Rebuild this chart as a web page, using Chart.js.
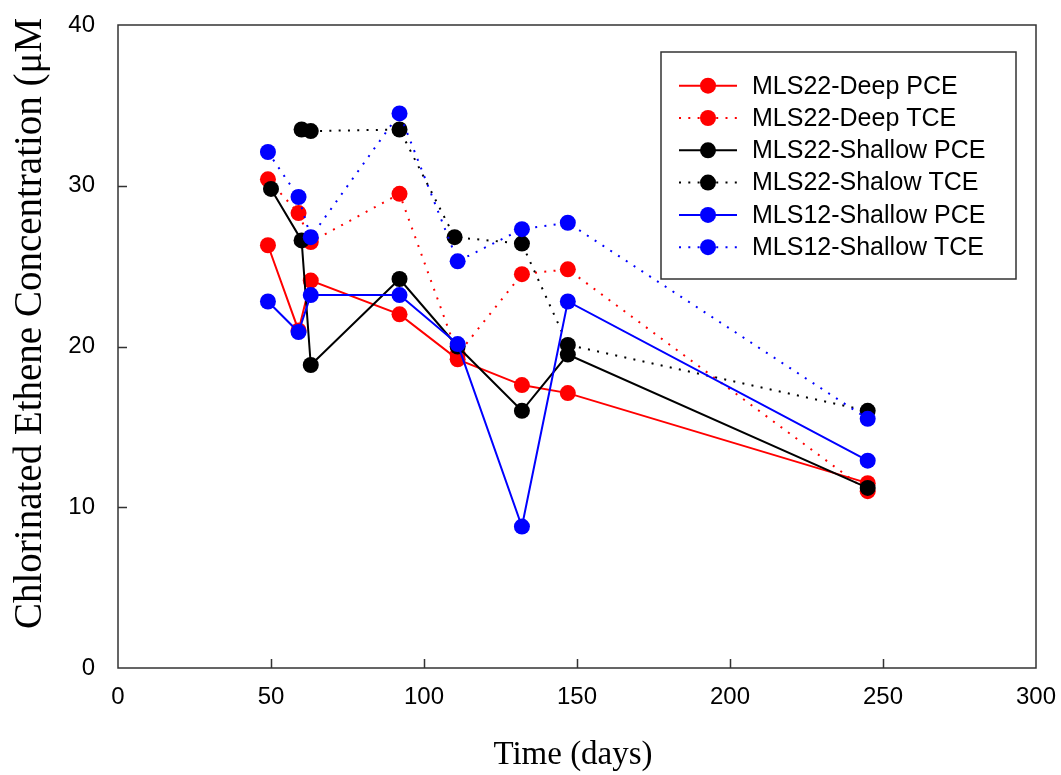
<!DOCTYPE html>
<html>
<head>
<meta charset="utf-8">
<script src="https://cdn.jsdelivr.net/npm/chart.js@4.4.1/dist/chart.umd.min.js"></script>
<style>
html,body{margin:0;padding:0;background:#fff;}
#wrap{width:1061px;height:775px;}
</style>
</head>
<body>
<div id="wrap"><canvas id="c" width="1061" height="775"></canvas></div>
<script>
// ---- data ----
const seriesNames = ["MLS22-Deep PCE","MLS22-Deep TCE","MLS22-Shallow PCE","MLS22-Shalow TCE","MLS12-Shallow PCE","MLS12-Shallow TCE"];
const daysDeepPCE = [49,59,63,92,111,132,147,245];
const deepPCE     = [26.3,21.0,24.1,22.0,19.2,17.6,17.1,11.5];
const daysDeepTCE = [49,59,63,92,111,132,147,245];
const deepTCE     = [30.4,28.3,26.5,29.5,19.5,24.5,24.8,11.0];
const daysShallowPCE = [50,60,63,92,111,132,147,245];
const shallowPCE     = [29.8,26.6,18.85,24.2,20.0,16.0,19.5,11.2];
const daysShallowTCE = [60,63,92,110,132,147,245];
const shallowTCE     = [33.5,33.4,33.5,26.8,26.4,20.1,16.0];
const daysMls12PCE = [49,59,63,92,111,132,147,245];
const mls12PCE     = [22.8,20.9,23.2,23.2,20.15,8.8,22.8,12.9];
const daysMls12TCE = [49,59,63,92,111,132,147,245];
const mls12TCE     = [32.1,29.3,26.8,34.5,25.3,27.3,27.7,15.5];
const xTicks = [0,50,100,150,200,250,300];
const yTicks = [0,10,20,30,40];
const xTitle = "Time (days)";
const yTitle = "Chlorinated Ethene Concentration (\u03bcM";

const pts = (xs, ys) => xs.map((x, i) => ({x: x, y: ys[i]}));
const colors = ["#ff0000","#ff0000","#000000","#000000","#0000ff","#0000ff"];
const dotted = [false,true,false,true,false,true];
const DASH = [2,7.3];
const seriesData = [
  pts(daysDeepPCE, deepPCE), pts(daysDeepTCE, deepTCE),
  pts(daysShallowPCE, shallowPCE), pts(daysShallowTCE, shallowTCE),
  pts(daysMls12PCE, mls12PCE), pts(daysMls12TCE, mls12TCE)
];

const datasets = seriesData.map((d, i) => ({
  label: seriesNames[i],
  data: d,
  borderColor: colors[i],
  backgroundColor: colors[i],
  pointBackgroundColor: colors[i],
  pointBorderColor: colors[i],
  pointBorderWidth: 0,
  pointRadius: 8,
  pointHoverRadius: 8,
  borderWidth: 2,
  borderDash: dotted[i] ? DASH : [],
  tension: 0,
  order: 6 - i
}));

const FRAME = "#333333";

const framePlugin = {
  id: "framePlugin",
  afterDraw(chart) {
    const ctx = chart.ctx;
    const a = chart.chartArea;
    const xs = chart.scales.x, ys = chart.scales.y;
    ctx.save();
    ctx.strokeStyle = FRAME;
    ctx.lineWidth = 1.5;
    ctx.strokeRect(a.left, a.top, a.right - a.left, a.bottom - a.top);
    // inward ticks
    ctx.beginPath();
    xTicks.forEach(v => {
      if (v === xs.min || v === xs.max) return;
      const px = Math.round(xs.getPixelForValue(v)) + 0.5;
      ctx.moveTo(px, a.bottom);
      ctx.lineTo(px, a.bottom - 9);
    });
    yTicks.forEach(v => {
      if (v === ys.min || v === ys.max) return;
      const py = Math.round(ys.getPixelForValue(v)) + 0.5;
      ctx.moveTo(a.left, py);
      ctx.lineTo(a.left + 9, py);
    });
    ctx.stroke();

    // axis titles
    ctx.fillStyle = "#000";
    ctx.font = "33px 'Liberation Serif', 'Times New Roman', serif";
    ctx.textAlign = "center";
    ctx.textBaseline = "alphabetic";
    ctx.fillText(xTitle, (a.left + a.right) / 2 - 4, 764);

    ctx.save();
    ctx.font = "39px 'Liberation Serif', 'Times New Roman', serif";
    ctx.translate(41, 629);
    ctx.rotate(-Math.PI / 2);
    ctx.textAlign = "left";
    ctx.textBaseline = "alphabetic";
    ctx.fillText(yTitle, 0, 0);
    ctx.restore();

    // legend
    const lx = 661, ly = 52, lw = 355, lh = 227;
    ctx.fillStyle = "#fff";
    ctx.fillRect(lx, ly, lw, lh);
    ctx.strokeStyle = FRAME;
    ctx.lineWidth = 1.5;
    ctx.strokeRect(lx, ly, lw, lh);
    chart.data.datasets.forEach((ds, i) => {
      const cy = 85.7 + i * 32.3;
      ctx.save();
      ctx.strokeStyle = ds.borderColor;
      ctx.lineWidth = 2;
      ctx.setLineDash(ds.borderDash || []);
      ctx.beginPath();
      ctx.moveTo(679, cy);
      ctx.lineTo(737, cy);
      ctx.stroke();
      ctx.restore();
      ctx.beginPath();
      ctx.fillStyle = ds.pointBackgroundColor;
      ctx.arc(708, cy, 8, 0, Math.PI * 2);
      ctx.fill();
      ctx.fillStyle = "#000";
      ctx.font = "25px 'Liberation Sans', Arial, sans-serif";
      ctx.textAlign = "left";
      ctx.textBaseline = "middle";
      ctx.fillText(ds.label, 752, cy + 1);
    });
    ctx.restore();
  }
};

new Chart(document.getElementById("c"), {
  type: "line",
  data: { datasets: datasets },
  options: {
    responsive: false,
    animation: false,
    devicePixelRatio: 1,
    layout: { padding: { top: 25, right: 25, left: 0, bottom: 0 } },
    plugins: { legend: { display: false }, tooltip: { enabled: false } },
    scales: {
      x: {
        type: "linear",
        min: 0, max: 300,
        afterBuildTicks: s => { s.ticks = xTicks.map(v => ({value: v})); },
        afterFit: s => { s.height = 107; s.paddingLeft = 0; s.paddingRight = 0; },
        grid: { display: false },
        border: { display: false },
        ticks: { color: "#000", padding: 7, font: { family: "'Liberation Sans', Arial, sans-serif", size: 24 }, maxRotation: 0 }
      },
      y: {
        type: "linear",
        min: 0, max: 40,
        afterBuildTicks: s => { s.ticks = yTicks.map(v => ({value: v})); },
        afterFit: s => { s.width = 118; s.paddingTop = 0; s.paddingBottom = 0; },
        grid: { display: false },
        border: { display: false },
        ticks: { color: "#000", padding: 15, font: { family: "'Liberation Sans', Arial, sans-serif", size: 24 } }
      }
    }
  },
  plugins: [framePlugin]
});
</script>
</body>
</html>
